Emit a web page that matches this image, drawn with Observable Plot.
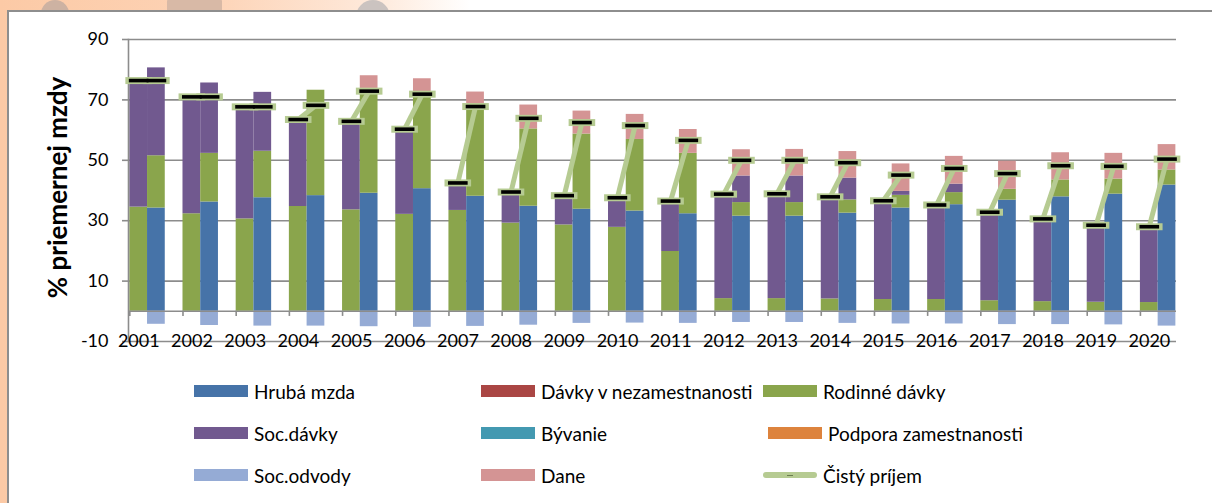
<!DOCTYPE html>
<html><head><meta charset="utf-8">
<script src="https://cdn.jsdelivr.net/npm/d3@7"></script>
<script src="https://cdn.jsdelivr.net/npm/@observablehq/plot@0.6"></script>
<style>
html,body{margin:0;padding:0}
body{width:1212px;height:503px;overflow:hidden;position:relative;font-family:Lato,"Open Sans",sans-serif;
 background:linear-gradient(90deg,#fccaa6 0px,#fdd2b4 200px,#feeadc 380px,#ffffff 470px);}
.deco{position:absolute}
#box{position:absolute;left:7px;top:10px;right:-5px;bottom:-5px;background:#fff;border-left:2px solid #8e8e8e;border-top:2px solid #8e8e8e;}
#chart{position:absolute;left:0;top:0;}
#legend{position:absolute;left:194px;top:370px;display:grid;grid-template-columns:287px 282px 320px;grid-auto-rows:42px;}
.item{display:flex;align-items:center;font-size:19px;color:#000;white-space:nowrap}
.sw{width:54px;height:12px;margin-right:6px;flex:none}
.ln{width:54px;height:6px;margin-right:6px;flex:none;border-radius:3px;position:relative}
.ln::after{content:"";position:absolute;left:24px;top:2.5px;width:6px;height:1px;background:#6b7d4f}
</style></head><body>
<div class="deco" style="left:41px;top:0px;width:28px;height:28px;border-radius:50%;background:#cdb2a2"></div>
<div class="deco" style="left:167px;top:-4px;width:55px;height:20px;border-radius:6px;background:#d8b9a6"></div>
<div class="deco" style="left:356px;top:0px;width:34px;height:34px;border-radius:50%;background:#cbc3c0"></div>
<div id="box"></div><div id="chart"></div><div id="legend"></div>
<script>
const years = [2001,2002,2003,2004,2005,2006,2007,2008,2009,2010,2011,2012,2013,2014,2015,2016,2017,2018,2019,2020];
// Left bar (bez práce)
const outRodinne = [34.5,32.3,30.6,34.7,33.6,32.1,33.4,29.2,28.6,27.8,19.8,4.2,4.2,4.1,3.9,3.9,3.5,3.2,3.0,2.9];
const outSoc     = [41.9,38.7,37.1,28.8,29.3,28.2,9.1,10.3,9.7,9.8,16.7,34.6,34.7,33.8,32.7,31.3,29.3,27.4,25.5,25.1];
// Right bar (pracujúci)
const workHruba   = [34.2,36.2,37.6,38.3,39.1,40.6,38.1,34.8,33.8,33.2,32.3,31.5,31.5,32.5,34.2,35.3,36.8,37.9,38.8,41.8];
const workRodinne = [17.3,16.1,15.4,34.9,34.7,31.9,28.9,25.6,24.9,23.7,20.0,4.5,4.5,4.4,4.2,4.0,3.6,5.6,5.0,5.0];
const workSoc     = [29.1,23.3,19.5,0,0,0,0,0,0,0,0,8.8,8.8,7.2,1.3,2.8,0,0,0,0];
const workDane    = [0,0,0,0,4.2,4.5,5.6,7.9,7.6,8.3,7.9,8.7,8.8,8.8,9.1,9.2,9.3,9.0,8.5,8.4];
const workOdvody  = [-4.3,-4.7,-4.9,-4.9,-5.1,-5.3,-5.0,-4.6,-4.0,-3.9,-4.0,-3.7,-3.7,-4.0,-4.2,-4.2,-4.4,-4.4,-4.5,-4.9];
// Čistý príjem
const netOut  = [76.4,71.0,67.7,63.5,62.9,60.3,42.5,39.5,38.3,37.6,36.5,38.8,38.9,37.9,36.6,35.2,32.8,30.6,28.5,28.0];
const netWork = [76.4,71.0,67.7,68.2,72.9,71.9,67.8,63.9,62.5,61.5,56.6,50.0,50.0,49.2,45.1,47.3,45.6,48.2,48.0,50.4];

const yTicks = [90,70,50,30,10,-10];
const seriesNames  = ["Hrubá mzda","Dávky v nezamestnanosti","Rodinné dávky","Soc.dávky","Bývanie","Podpora zamestnanosti","Soc.odvody","Dane"];
const seriesColors = ["#4673a8","#aa4644","#8aa54c","#71598f","#4399b1","#dd833d","#95abd5","#d49494"];
const lineName = "Čistý príjem";
const lineColor = "#b6cb92";
const yLabel = "% priemernej mzdy";

// build stacked segments
const segments = [];
years.forEach((year, i) => {
  let c = 0;
  [["Rodinné dávky", outRodinne[i]], ["Soc.dávky", outSoc[i]]].forEach(([s, v]) => {
    if (v > 0) segments.push({year, side: 0, series: s, y1: c, y2: c + v});
    c += v;
  });
  c = 0;
  [["Hrubá mzda", workHruba[i]], ["Rodinné dávky", workRodinne[i]], ["Soc.dávky", workSoc[i]], ["Dane", workDane[i]]].forEach(([s, v]) => {
    if (v > 0) segments.push({year, side: 1, series: s, y1: c, y2: c + v});
    c += v;
  });
  segments.push({year, side: 1, series: "Soc.odvody", y1: 0, y2: workOdvody[i]});
});
const netTable = years.map((year, i) => ({year, out: netOut[i], work: netWork[i]}));
const dashes = years.flatMap((year, i) => [{year, pos: 0, value: netOut[i]}, {year, pos: 1, value: netWork[i]}]);

const grey = "#8c8c8c";
const third = 1/3;
const center = d => d.year + third * d.pos + third / 2;

const plot = Plot.plot({
  width: 1212, height: 360,
  marginLeft: 128, marginRight: 36, marginTop: 39, marginBottom: 19,
  style: {background: "transparent", fontFamily: "Lato, sans-serif", fontSize: "18px", color: "#000"},
  x: {type: "linear", domain: [2001, 2021], range: [129.3, 1193.1], axis: null},
  y: {domain: [-10, 90], axis: null},
  color: {domain: seriesNames, range: seriesColors},
  marks: [
    Plot.ruleY(yTicks, {stroke: grey, strokeWidth: 1.6}),
    Plot.rect(segments, {x1: d => d.year + third * d.side, x2: d => d.year + third * (d.side + 1), y1: "y1", y2: "y2", fill: "series"}),
    Plot.ruleY([0], {stroke: grey, strokeWidth: 1.6}),
    Plot.ruleX(years, {x: d => d, y1: 0, y2: -1.7, stroke: grey, strokeWidth: 1.6}),
    Plot.frame({anchor: "left", stroke: grey, strokeWidth: 1.6}),
    Plot.axisY({ticks: yTicks, tickSize: 6, tickPadding: 14, tickFormat: d => String(d), stroke: grey, strokeWidth: 1.6, fontSize: 18, label: null, fill: "#000"}),
    Plot.text(years, {x: d => d, frameAnchor: "bottom", dx: 9, text: d => String(d), fontSize: 18, lineAnchor: "middle", fill: "#000"}),
    Plot.link(netTable, {x1: d => d.year + third / 2, x2: d => d.year + third * 1.5, y1: "out", y2: "work", stroke: lineColor, strokeWidth: 5}),
    Plot.link(dashes, {x1: d => center(d) - 0.25, x2: d => center(d) + 0.25, y1: "value", y2: "value", stroke: lineColor, strokeWidth: 7}),
    Plot.link(dashes, {x1: d => center(d) - 0.185, x2: d => center(d) + 0.185, y1: "value", y2: "value", stroke: "#000", strokeWidth: 3.6}),
    Plot.text([yLabel], {frameAnchor: "left", textAnchor: "middle", lineAnchor: "middle", dx: -70, dy: -3, rotate: -90, fontSize: 26, fontWeight: "bold", fill: "#000"})
  ]
});
document.getElementById("chart").appendChild(plot);

// legend (3 columns, row-major like the original)
const legendOrder = ["Hrubá mzda","Dávky v nezamestnanosti","Rodinné dávky","Soc.dávky","Bývanie","Podpora zamestnanosti","Soc.odvody","Dane",lineName];
const legend = document.getElementById("legend");
legendOrder.forEach(name => {
  const item = document.createElement("div");
  item.className = "item";
  const sw = document.createElement("span");
  if (name === lineName) { sw.className = "ln"; sw.style.background = lineColor; }
  else { sw.className = "sw"; sw.style.background = seriesColors[seriesNames.indexOf(name)]; }
  if (name === "Podpora zamestnanosti") item.style.marginLeft = "5px";
  item.appendChild(sw);
  const t = document.createElement("span");
  t.textContent = name;
  item.appendChild(t);
  legend.appendChild(item);
});
</script>
</body></html>
